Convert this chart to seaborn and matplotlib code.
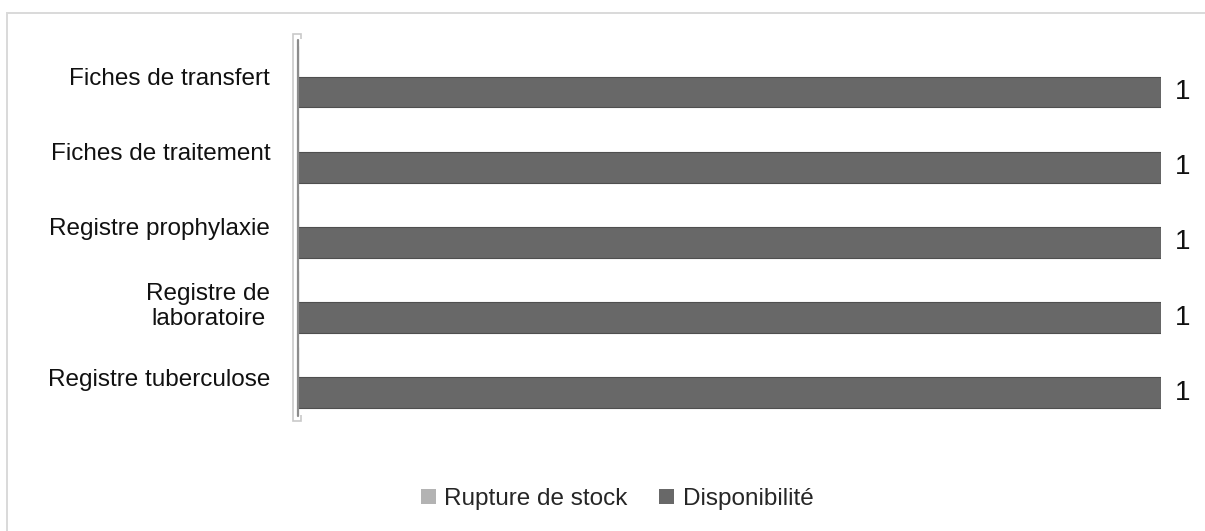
import matplotlib
matplotlib.use("Agg")
import matplotlib.pyplot as plt
import matplotlib.patches as mpatches
import matplotlib.lines as mlines
import pandas as pd
import seaborn as sns

# Stock status of the registers and forms
categories = [
    "Fiches de transfert",
    "Fiches de traitement",
    "Registre prophylaxie",
    "Registre de\nlaboratoire",
    "Registre tuberculose",
]
rupture_de_stock = [0, 0, 0, 0, 0]
disponibilite = [1, 1, 1, 1, 1]
series_names = ["Rupture de stock", "Disponibilité"]
series_colors = ["#b3b3b3", "#686868"]

df = pd.DataFrame({
    "Document": categories * 2,
    "Valeur": rupture_de_stock + disponibilite,
    "Série": [series_names[0]] * len(categories) + [series_names[1]] * len(categories),
})

sns.set_style("white")
plt.rcParams["font.family"] = ["Liberation Sans", "DejaVu Sans"]

W, H = 1205, 531
fig = plt.figure(figsize=(W / 100, H / 100), dpi=100)
ax_left, ax_right, ax_top, ax_bottom = 298, 1161, 39, 415
ax = fig.add_axes([ax_left / W, 1 - ax_bottom / H,
                   (ax_right - ax_left) / W, (ax_bottom - ax_top) / H])

sns.barplot(data=df, x="Valeur", y="Document", hue="Série", orient="h",
            order=categories, hue_order=series_names,
            palette=series_colors, width=0.82, dodge=True,
            edgecolor="#4f4f4f", linewidth=0.8, ax=ax)

ax.set_xlim(0, 1)
ax.set_ylim(len(categories) - 0.5, -0.5)
ax.set_xlabel("")
ax.set_ylabel("")
ax.set_xticks([])
ax.tick_params(axis="y", length=0, pad=20, labelsize=17.5, labelcolor="#111111")
for lbl in ax.get_yticklabels():
    lbl.set_multialignment("center")
for s in ax.spines.values():
    s.set_visible(False)

# value labels for the available series
ax.bar_label(ax.containers[1], fmt="%d", padding=10, fontsize=20, color="#111111")

# thin side wall of the plot area
wall = mpatches.Rectangle((293 / W, 1 - 421 / H), 8 / W, (421 - 34) / H,
                          transform=fig.transFigure, facecolor="white",
                          edgecolor="#c9c9c9", linewidth=1.2, zorder=0)
fig.add_artist(wall)
fig.add_artist(mlines.Line2D([297.5 / W, 297.5 / W], [1 - 416 / H, 1 - 40 / H],
                             transform=fig.transFigure, color="#8c8c8c",
                             linewidth=1.6, zorder=1))

# outer chart frame (left and top edges visible)
frame_top = 1 - 12.5 / H
fig.add_artist(mpatches.Rectangle((7 / W, -0.2), 1.2, frame_top + 0.2,
                                  transform=fig.transFigure, fill=False,
                                  edgecolor="#d9d9d9", linewidth=1.4))

handles, labels = ax.get_legend_handles_labels()
if ax.get_legend() is not None:
    ax.get_legend().remove()
leg = fig.legend(handles, labels, loc="center", bbox_to_anchor=(617 / W, 1 - 499 / H),
                 ncol=2, frameon=False, fontsize=17.5, handlelength=0.62,
                 handleheight=0.62, handletextpad=0.35, columnspacing=1.3,
                 borderaxespad=0)
for patch in leg.get_patches():
    patch.set_edgecolor("none")

fig.savefig("out.png", dpi=100, facecolor="white")
